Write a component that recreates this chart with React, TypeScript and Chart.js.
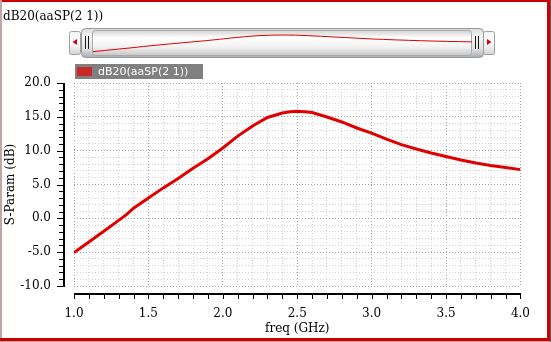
import React, { useEffect, useRef } from 'react';
import { Chart, registerables } from 'chart.js';

Chart.register(...registerables);

// ---- data ----
const freqGHz = [1.0, 1.1, 1.2, 1.3, 1.35, 1.4, 1.5, 1.6, 1.7, 1.8, 1.9, 2.0, 2.1, 2.2, 2.3, 2.4, 2.45, 2.5, 2.55, 2.6, 2.7, 2.8, 2.9, 3.0, 3.1, 3.2, 3.3, 3.4, 3.5, 3.6, 3.7, 3.8, 3.9, 4.0];
const dB21 = [-5.05, -3.5, -1.9, -0.3, 0.5, 1.5, 3.0, 4.5, 5.9, 7.4, 8.8, 10.4, 12.15, 13.65, 14.9, 15.57, 15.75, 15.82, 15.76, 15.64, 14.98, 14.24, 13.35, 12.6, 11.7, 10.9, 10.25, 9.65, 9.14, 8.62, 8.18, 7.8, 7.5, 7.2];
const seriesLabel = 'dB20(aaSP(2 1))';
const plotTitle = 'dB20(aaSP(2 1))';
const xTitle = 'freq (GHz)';
const yTitle = 'S-Param (dB)';
const xRange = [1, 4];
const yRange = [-10, 20];
const xStep = 0.1;
const yStep = 1;
const xLabelEvery = 5; // in steps
const yLabelEvery = 5;
const overviewYRange = [-8, 18.3];

const W = 551;
const H = 342;
const RED = '#e00000';
const serif = '"DejaVu Serif", serif';
const sans = '"DejaVu Sans", sans-serif';

function roundRect(ctx: CanvasRenderingContext2D, x: number, y: number, w: number, h: number, r: number) {
  ctx.beginPath();
  ctx.moveTo(x + r, y);
  ctx.lineTo(x + w - r, y);
  ctx.quadraticCurveTo(x + w, y, x + w, y + r);
  ctx.lineTo(x + w, y + h - r);
  ctx.quadraticCurveTo(x + w, y + h, x + w - r, y + h);
  ctx.lineTo(x + r, y + h);
  ctx.quadraticCurveTo(x, y + h, x, y + h - r);
  ctx.lineTo(x, y + r);
  ctx.quadraticCurveTo(x, y, x + r, y);
  ctx.closePath();
}

const backgroundPlugin = {
  id: 'bg',
  beforeDraw(chart: any) {
    const ctx: CanvasRenderingContext2D = chart.ctx;
    ctx.save();
    ctx.fillStyle = '#ffffff';
    ctx.fillRect(0, 0, W, H);
    // frame
    ctx.fillStyle = '#cc0000';
    ctx.fillRect(0, 0, W, 2);
    ctx.fillStyle = '#c4a4a4';
    ctx.fillRect(0, 0, 2, H);
    ctx.fillStyle = '#cc0000';
    ctx.fillRect(547, 0, 3, H);
    ctx.fillStyle = '#5a5a5a';
    ctx.fillRect(550, 0, 1, H);
    ctx.fillStyle = '#cc0000';
    ctx.fillRect(0, 338, 550, 3);
    ctx.fillStyle = '#c4a4a4';
    ctx.fillRect(0, 341, 550, 1);

    // scrollbar buttons
    const drawButton = (x: number, dir: number) => {
      const g = ctx.createLinearGradient(0, 31, 0, 55);
      g.addColorStop(0, '#f4f4f4');
      g.addColorStop(0.5, '#ffffff');
      g.addColorStop(1, '#d0d0d0');
      roundRect(ctx, x + 0.5, 31.5, 11, 23, 2);
      ctx.fillStyle = g;
      ctx.fill();
      ctx.strokeStyle = '#a0a0a0';
      ctx.lineWidth = 1;
      ctx.stroke();
      ctx.fillStyle = '#e00000';
      ctx.beginPath();
      const cx = x + 6;
      ctx.moveTo(cx - 2.5 * dir, 42);
      ctx.lineTo(cx + 2 * dir, 39);
      ctx.lineTo(cx + 2 * dir, 45);
      ctx.closePath();
      ctx.fill();
    };
    drawButton(69, 1);
    drawButton(483, -1);

    // thumb
    const tg = ctx.createLinearGradient(0, 28, 0, 58);
    tg.addColorStop(0, '#d8d8d8');
    tg.addColorStop(0.3, '#f6f6f6');
    tg.addColorStop(0.7, '#e2e2e2');
    tg.addColorStop(1, '#a4aab0');
    roundRect(ctx, 81.5, 28.5, 402, 29, 4);
    ctx.fillStyle = tg;
    ctx.fill();
    ctx.strokeStyle = '#9a9a9a';
    ctx.stroke();

    // inner trough
    const ig = ctx.createLinearGradient(0, 30, 0, 56);
    ig.addColorStop(0, '#d0d0d0');
    ig.addColorStop(0.3, '#ffffff');
    ig.addColorStop(0.65, '#f2f2f2');
    ig.addColorStop(1, '#c4c4c4');
    roundRect(ctx, 92.5, 30.5, 379, 25, 3);
    ctx.fillStyle = ig;
    ctx.fill();
    ctx.strokeStyle = '#a8a8a8';
    ctx.stroke();

    // grips
    ctx.fillStyle = '#1a1a1a';
    ctx.fillRect(85, 36, 1, 13);
    ctx.fillRect(88, 36, 1, 13);
    ctx.fillRect(475, 36, 1, 13);
    ctx.fillRect(478, 36, 1, 13);
    ctx.restore();
  },
  afterDraw(chart: any) {
    const ctx: CanvasRenderingContext2D = chart.ctx;
    const ca = chart.chartArea;
    const xs = chart.scales.x;
    const ys = chart.scales.y;
    ctx.save();
    // detached axes
    ctx.fillStyle = '#000000';
    const axX = Math.round(ca.left) - 11;
    const top = Math.round(ys.getPixelForValue(yRange[1]));
    const bot = Math.round(ys.getPixelForValue(yRange[0]));
    ctx.fillRect(axX, top, 2, bot - top + 1);
    ys.ticks.forEach((t: any) => {
      const y = Math.round(ys.getPixelForValue(t.value));
      const major = Math.round(t.value) % yLabelEvery === 0;
      const len = major ? 6 : 4;
      ctx.fillRect(axX - len, y, len, 1);
    });
    const axY = Math.round(ca.bottom) + 7;
    const left = Math.round(xs.getPixelForValue(xRange[0]));
    const right = Math.round(xs.getPixelForValue(xRange[1]));
    ctx.fillRect(left, axY, right - left + 1, 2);
    xs.ticks.forEach((t: any) => {
      const x = Math.round(xs.getPixelForValue(t.value));
      ctx.fillRect(x, axY, 1, 6);
    });

    // title
    ctx.font = '12px ' + serif;
    ctx.textBaseline = 'alphabetic';
    ctx.textAlign = 'left';
    ctx.fillStyle = '#000000';
    ctx.fillText(plotTitle, 3, 20);

    // legend
    const ds = chart.data.datasets[0];
    ctx.fillStyle = '#808080';
    ctx.fillRect(75, 64, 128, 15);
    ctx.fillStyle = '#c82828';
    ctx.fillRect(77, 67, 15, 9);
    ctx.fillStyle = '#ffffff';
    ctx.font = '11px ' + sans;
    ctx.textBaseline = 'middle';
    ctx.fillText(ds.label, 98, 72);
    ctx.restore();
  },
};

const isMajorX = (v: number) => Math.round(v / xStep) % xLabelEvery === 0;
const isMajorY = (v: number) => Math.round(v / yStep) % yLabelEvery === 0;

export default function App() {
  const mainRef = useRef<HTMLCanvasElement>(null);
  const ovRef = useRef<HTMLCanvasElement>(null);

  useEffect(() => {
    document.body.style.margin = '0';
    const points = freqGHz.map((f, i) => ({ x: f, y: dB21[i] }));
    const main = new Chart(mainRef.current as HTMLCanvasElement, {
      type: 'line',
      data: {
        datasets: [
          {
            label: seriesLabel,
            data: points,
            borderColor: RED,
            backgroundColor: RED,
            borderWidth: 3,
            pointRadius: 0,
            tension: 0,
          },
        ],
      },
      options: {
        responsive: false,
        animation: false,
        layout: { padding: { left: 0, right: 28, top: 83, bottom: 0 } },
        plugins: { legend: { display: false }, tooltip: { enabled: false }, title: { display: false } },
        scales: {
          x: {
            type: 'linear',
            min: xRange[0],
            max: xRange[1],
            afterFit: (s: any) => {
              s.height = 56;
            },
            border: { display: false, dash: [1, 2] },
            grid: {
              drawTicks: false,
              color: (c: any) => (c.tick && isMajorX(c.tick.value) ? '#a0a0a0' : '#d2d2d2'),
              lineWidth: 1,
            },
            ticks: {
              stepSize: xStep,
              autoSkip: false,
              maxRotation: 0,
              padding: 21,
              color: '#000000',
              font: { family: serif, size: 12 },
              callback: (v: any) => (isMajorX(Number(v)) ? Number(v).toFixed(1) : ''),
            },
            title: {
              display: true,
              text: xTitle,
              color: '#000000',
              font: { family: serif, size: 12 },
              padding: { top: 0, bottom: 6 },
            },
          },
          y: {
            type: 'linear',
            min: yRange[0],
            max: yRange[1],
            afterFit: (s: any) => {
              s.width = 74;
            },
            border: { display: false, dash: [1, 2] },
            grid: {
              drawTicks: false,
              color: (c: any) => (c.tick && isMajorY(c.tick.value) ? '#a0a0a0' : '#d2d2d2'),
              lineWidth: 1,
            },
            ticks: {
              stepSize: yStep,
              autoSkip: false,
              padding: 23,
              color: '#000000',
              font: { family: serif, size: 12 },
              callback: (v: any) => (isMajorY(Number(v)) ? Number(v).toFixed(1) : ''),
            },
            title: {
              display: true,
              text: yTitle,
              color: '#000000',
              font: { family: serif, size: 12 },
              padding: { top: 4, bottom: 0 },
            },
          },
        },
      },
      plugins: [backgroundPlugin],
    });

    const ov = new Chart(ovRef.current as HTMLCanvasElement, {
      type: 'line',
      data: {
        datasets: [
          {
            label: seriesLabel,
            data: points,
            borderColor: RED,
            borderWidth: 1,
            pointRadius: 0,
            tension: 0,
          },
        ],
      },
      options: {
        responsive: false,
        animation: false,
        layout: { padding: 0 },
        plugins: { legend: { display: false }, tooltip: { enabled: false } },
        scales: {
          x: { type: 'linear', display: false, min: xRange[0], max: xRange[1] },
          y: { type: 'linear', display: false, min: overviewYRange[0], max: overviewYRange[1] },
        },
      },
    });

    return () => {
      main.destroy();
      ov.destroy();
    };
  }, []);

  return (
    <div style={{ position: 'absolute', left: 0, top: 0, width: W, height: H }}>
      <canvas ref={mainRef} width={W} height={H} style={{ position: 'absolute', left: 0, top: 0, width: W, height: H }} />
      <canvas ref={ovRef} width={379} height={21} style={{ position: 'absolute', left: 93, top: 33, width: 379, height: 21 }} />
    </div>
  );
}
